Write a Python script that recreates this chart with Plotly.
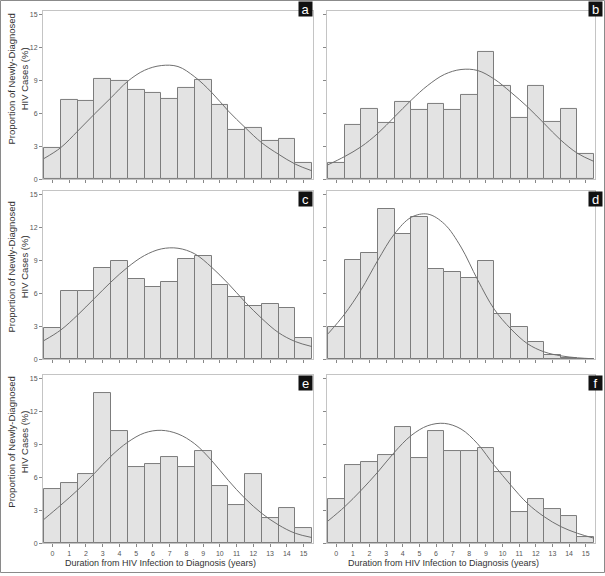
import plotly.graph_objects as go

# ---------------- data ----------------
years = list(range(16))                     # bar categories 0..15
tick_labels = [str(v) for v in years]
edges = [v - 0.5 for v in range(17)]        # x of curve sample points (bin edges)

bars_a = [2.86, 7.23, 7.14, 9.10, 8.94, 8.13, 7.83, 7.32, 8.28, 9.03, 6.75, 4.49, 4.67, 3.49, 3.61, 1.45]
bars_b = [1.45, 4.91, 6.39, 5.15, 7.02, 6.33, 6.87, 6.33, 7.68, 11.54, 8.52, 5.60, 8.52, 5.24, 6.42, 2.26]
bars_c = [2.86, 6.17, 6.17, 8.28, 8.92, 7.26, 6.57, 6.99, 9.10, 9.37, 6.78, 5.66, 4.88, 5.03, 4.67, 1.96]
bars_d = [2.90, 9.05, 9.70, 13.65, 11.40, 12.90, 8.20, 7.90, 7.35, 8.90, 4.10, 2.90, 1.55, 0.42, 0.10, 0.0]
bars_e = [4.91, 5.48, 6.33, 13.64, 10.18, 6.93, 7.20, 7.83, 6.93, 8.37, 5.21, 3.46, 6.33, 2.26, 3.16, 1.42]
bars_f = [3.98, 7.14, 7.38, 8.04, 10.54, 7.77, 10.24, 8.34, 8.34, 8.67, 6.48, 2.80, 3.98, 3.07, 2.44, 0.60]

curve_a = [1.87, 2.86, 4.35, 5.90, 7.40, 8.90, 9.90, 10.33, 10.24, 9.30, 7.90, 6.20, 4.70, 3.30, 2.26, 1.36, 0.75]
curve_b = [1.30, 2.05, 2.95, 4.16, 5.66, 7.17, 8.52, 9.52, 9.97, 9.88, 9.10, 7.90, 6.57, 5.06, 3.55, 2.35, 1.60]
curve_c = [1.69, 2.65, 4.00, 5.51, 7.02, 8.37, 9.43, 10.03, 10.09, 9.58, 8.37, 6.87, 5.21, 3.70, 2.41, 1.60, 1.14]
curve_d = [2.30, 4.10, 6.33, 9.00, 11.40, 12.90, 13.20, 12.30, 10.20, 7.22, 4.54, 2.75, 1.40, 0.66, 0.30, 0.12, 0.03]
curve_e = [2.17, 3.46, 4.82, 6.33, 7.92, 9.19, 10.03, 10.27, 9.94, 9.04, 7.53, 5.72, 4.07, 2.71, 1.66, 0.90, 0.51]
curve_f = [2.02, 3.31, 4.82, 6.48, 8.28, 9.79, 10.69, 10.90, 10.39, 9.04, 7.08, 5.27, 3.61, 2.41, 1.51, 0.90, 0.45]

y_ticks = [0, 3, 6, 9, 12, 15]
panel_letters = ["a", "b", "c", "d", "e", "f"]
y_title = "Proportion of Newly-Diagnosed<br>HIV Cases (%)"
x_title = "Duration from HIV Infection to Diagnosis (years)"

# ---------------- layout geometry (pixels) ----------------
W, H = 605, 576
def px(x):
    return x / W
def py(y):
    return 1 - y / H

cols = [(43, 313), (327, 595)]
rows = [(11, 180), (192, 361), (377, 546)]

FONT = "Liberation Sans, Arial, sans-serif"
BAR_FILL = "#e3e3e3"
BAR_LINE = "#7c7c7c"
CURVE = "#6f6f6f"
FRAME = "#c4c4c4"

bars = [bars_a, bars_b, bars_c, bars_d, bars_e, bars_f]
curves = [curve_a, curve_b, curve_c, curve_d, curve_e, curve_f]

fig = go.Figure()
layout = dict(
    width=W, height=H,
    margin=dict(l=0, r=0, t=0, b=0),
    paper_bgcolor="white", plot_bgcolor="white",
    showlegend=False, bargap=0,
    font=dict(family=FONT, color="#444"),
)

annotations = []
for i in range(6):
    r, c = divmod(i, 2)
    n = "" if i == 0 else str(i + 1)
    xa, ya = "x" + n, "y" + n
    fig.add_trace(go.Bar(
        x=years, y=bars[i], width=1, xaxis=xa, yaxis=ya,
        marker=dict(color=BAR_FILL, line=dict(color=BAR_LINE, width=1)),
        hoverinfo="skip",
    ))
    fig.add_trace(go.Scatter(
        x=edges, y=curves[i], mode="lines", xaxis=xa, yaxis=ya,
        line=dict(color=CURVE, width=1, shape="spline", smoothing=1.0),
        hoverinfo="skip",
    ))
    x0, x1 = cols[c]
    y0, y1 = rows[r]
    bottom = (r == 2)
    layout["xaxis" + n] = dict(
        domain=[px(x0), px(x1)], anchor=ya, range=[-0.56, 15.56],
        tickmode="array", tickvals=years,
        ticktext=tick_labels if bottom else [""] * 16,
        showticklabels=bottom,
        ticks="outside", ticklen=3, tickcolor="#888", tickwidth=1,
        tickfont=dict(size=7, color="#555", family=FONT),
        showline=True, linecolor=FRAME, linewidth=1, mirror=True,
        showgrid=False, zeroline=False, fixedrange=True,
    )
    layout["yaxis" + n] = dict(
        domain=[py(y1), py(y0)], anchor=xa, range=[0, 15.3],
        tickmode="array", tickvals=y_ticks,
        showticklabels=(c == 0),
        ticks="outside", ticklen=3, tickcolor="#888", tickwidth=1,
        tickfont=dict(size=7, color="#555", family=FONT),
        showline=True, linecolor=FRAME, linewidth=1, mirror=True,
        showgrid=False, zeroline=False, fixedrange=True,
    )
    # panel letter box
    top_shift = 10 if r == 0 else 0
    right_shift = 8 if c == 1 else 0
    annotations.append(dict(
        text=panel_letters[i], xref="paper", yref="paper",
        x=px(x1 + right_shift), y=py(y0 - top_shift),
        xanchor="right", yanchor="top", showarrow=False,
        width=13, height=14, bgcolor="#111", borderpad=0,
        font=dict(size=13, color="white", family=FONT),
    ))
    if c == 0:
        centers = {0: 80, 1: 269, 2: 445}
        annotations.append(dict(
            text=y_title, xref="paper", yref="paper",
            x=px(18), y=py(centers[r]), xanchor="center", yanchor="middle",
            textangle=-90, showarrow=False,
            font=dict(size=9.5, color="#333", family=FONT),
        ))
    if bottom:
        annotations.append(dict(
            text=x_title, xref="paper", yref="paper",
            x=px(160 if c == 0 else 443), y=py(566), xanchor="center", yanchor="middle",
            showarrow=False, font=dict(size=9, color="#333", family=FONT),
        ))

layout["annotations"] = annotations
layout["shapes"] = [dict(
    type="rect", xref="paper", yref="paper",
    x0=px(0.5), x1=px(604.5), y0=py(575.5), y1=py(0.5),
    line=dict(color="#8a8a8a", width=1),
)]
fig.update_layout(**layout)
fig.write_html(
    "out.html",
    config={"displayModeBar": False},
    post_script="document.body.style.margin='0px';document.body.style.overflow='hidden';",
)
